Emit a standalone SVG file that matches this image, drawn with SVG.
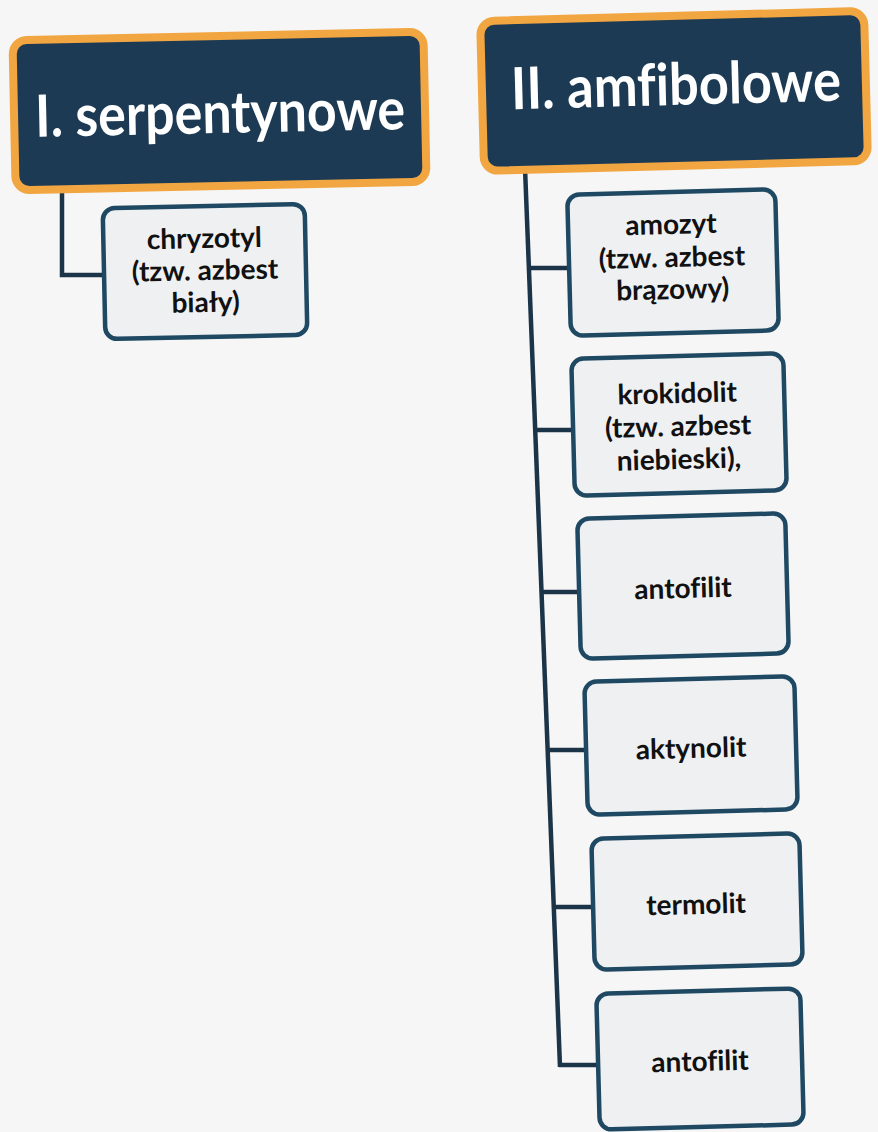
<svg xmlns="http://www.w3.org/2000/svg" width="878" height="1132" viewBox="0 0 878 1132">
<style>
.hdr{fill:#1c3a54;stroke:#f2a641;stroke-width:8}
.htx{fill:#ffffff;font-family:Lato,"Open Sans",sans-serif;font-weight:700;font-size:58px;text-anchor:middle;font-variant-ligatures:none}
.box{fill:#eff0f2;stroke:#1f4862;stroke-width:4.5}
.tx{fill:#111111;font-family:Lato,"Open Sans",sans-serif;font-weight:700;font-size:28px;text-anchor:middle;font-variant-ligatures:none}
.ln{fill:none;stroke:#1c3448;stroke-width:4.5;stroke-linejoin:miter}
</style>
<rect width="878" height="1132" fill="#f6f6f6"/>
<g id="connectors">
<path class="ln" d="M62 188 V275 H104"/>
<path class="ln" d="M525 168 L560 1067"/>
<path class="ln" d="M529 268 H569"/>
<path class="ln" d="M535 430 H573"/>
<path class="ln" d="M541.5 592 H579"/>
<path class="ln" d="M547.7 750 H586"/>
<path class="ln" d="M553.8 907 H593"/>
<path class="ln" d="M559 1065 H598"/>
</g>
<g id="serpentynowe" transform="rotate(-1.2 219 110)">
<rect class="hdr" x="14" y="36" width="411" height="150" rx="14"/>
<text class="htx" x="220" y="133" textLength="370" lengthAdjust="spacingAndGlyphs">I. serpentynowe</text>
</g>
<g id="amfibolowe" transform="rotate(-1.5 673 90)">
<rect class="hdr" x="482" y="16" width="384" height="150" rx="14"/>
<text class="htx" x="676" y="105" textLength="330" lengthAdjust="spacingAndGlyphs">II. amfibolowe</text>
</g>
<g id="chryzotyl" transform="rotate(-1.2 205 271)">
<rect class="box" x="104" y="206" width="202" height="131" rx="12"/>
<text class="tx" x="205" y="248">chryzotyl</text>
<text class="tx" x="205" y="280">(tzw. azbest</text>
<text class="tx" x="205" y="312">biały)</text>
</g>
<g id="amozyt" transform="rotate(-1.5 673 262)">
<rect class="box" x="569" y="192" width="208" height="141" rx="12"/>
<text class="tx" x="672" y="234">amozyt</text>
<text class="tx" x="672" y="267">(tzw. azbest</text>
<text class="tx" x="672" y="299">brązowy)</text>
</g>
<g id="krokidolit" transform="rotate(-1.5 679 424)">
<rect class="box" x="573" y="356" width="212" height="137" rx="12"/>
<text class="tx" x="678" y="403">krokidolit</text>
<text class="tx" x="678" y="436">(tzw. azbest</text>
<text class="tx" x="678" y="469">niebieski),</text>
</g>
<g id="antofilit1" transform="rotate(-1.5 683 586)">
<rect class="box" x="579" y="516" width="208" height="140" rx="12"/>
<text class="tx" x="683" y="598">antofilit</text>
</g>
<g id="aktynolit" transform="rotate(-1.5 691 745)">
<rect class="box" x="586" y="679" width="210" height="133" rx="12"/>
<text class="tx" x="691" y="758">aktynolit</text>
</g>
<g id="termolit" transform="rotate(-1.5 697 901)">
<rect class="box" x="593" y="836" width="208" height="131" rx="12"/>
<text class="tx" x="696" y="914">termolit</text>
</g>
<g id="antofilit2" transform="rotate(-1.5 700 1059)">
<rect class="box" x="598" y="991" width="204" height="136" rx="12"/>
<text class="tx" x="700" y="1071">antofilit</text>
</g>
</svg>
